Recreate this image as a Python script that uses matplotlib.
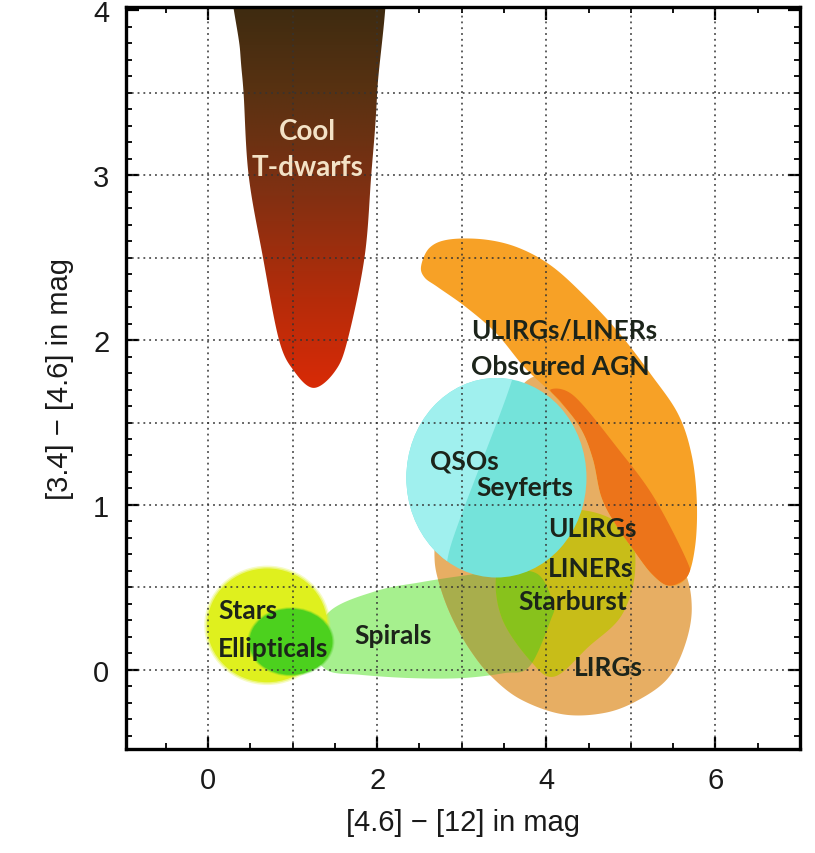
import numpy as np
import matplotlib
matplotlib.use("Agg")
import matplotlib.pyplot as plt
from matplotlib.patches import Polygon, Ellipse
from matplotlib.colors import LinearSegmentedColormap
from matplotlib.ticker import MultipleLocator

# ---------------- data (region outlines in colour-colour space) ----------------
tdwarf_x = [0.30, 0.38, 0.42, 0.48, 0.65, 0.84, 1.02, 1.25, 1.50, 1.65, 1.85, 1.93, 2.00, 2.06, 1.18]
tdwarf_y = [4.40, 3.75, 3.50, 3.00, 2.50, 2.00, 1.81, 1.71, 1.81, 2.00, 2.50, 3.00, 3.50, 4.40, 4.60]

obscured_x = [2.52, 2.62, 2.85, 3.27, 3.67, 4.06, 4.45, 4.85, 5.24, 5.56, 5.72, 5.78, 5.76, 5.66,
              5.45, 5.25, 5.04, 4.82, 4.65, 4.55, 4.40, 4.10, 3.75, 3.41, 3.05, 2.72, 2.56]
obscured_y = [2.45, 2.56, 2.61, 2.61, 2.56, 2.45, 2.27, 2.05, 1.79, 1.55, 1.30, 1.02, 0.75, 0.56,
              0.51, 0.58, 0.72, 0.88, 1.05, 1.28, 1.47, 1.66, 1.83, 2.04, 2.20, 2.32, 2.38]

ulirg_x = [4.05, 4.33, 4.85, 5.28, 5.68, 5.66, 5.45, 5.25, 5.04, 4.82, 4.65, 4.55, 4.40, 4.18]
ulirg_y = [1.70, 1.66, 1.34, 1.04, 0.64, 0.56, 0.51, 0.58, 0.72, 0.88, 1.05, 1.28, 1.47, 1.62]

lirg_x = [2.68, 2.76, 2.90, 3.10, 3.35, 3.70, 4.20, 4.70, 5.10, 5.44, 5.64, 5.72, 5.62, 5.25, 4.60,
          3.95, 3.45, 2.95, 2.72]
lirg_y = [0.66, 0.48, 0.30, 0.12, -0.04, -0.18, -0.27, -0.26, -0.18, -0.05, 0.15, 0.38, 0.62, 0.95,
          1.40, 1.78, 1.55, 1.15, 0.85]

spiral_x = [1.25, 1.45, 2.00, 2.50, 3.00, 3.50, 3.90, 4.08, 4.05, 3.80, 3.50, 3.00, 2.40, 1.80, 1.40]
spiral_y = [0.15, 0.36, 0.48, 0.53, 0.57, 0.60, 0.58, 0.40, 0.30, 0.02, -0.02, -0.05, -0.05, -0.03, 0.00]

starburst_x = [3.47, 3.82, 4.10, 4.50, 4.89, 5.05, 4.95, 4.40, 3.70, 3.42]
starburst_y = [0.32, 0.05, -0.04, 0.14, 0.33, 0.60, 0.85, 0.97, 0.90, 0.62]

qso_light_x = [2.10, 3.59, 3.59, 2.88, 2.75, 2.10]
qso_light_y = [2.00, 1.95, 1.75, 0.77, 0.40, 0.40]

# ellipses: centre x, centre y, width, height
qso_ell = (3.41, 1.165, 2.13, 1.21)
stars_ell = (0.70, 0.27, 1.42, 0.69)
ellip_ell = (0.98, 0.17, 0.98, 0.40)

grid_x = [0, 1, 2, 3, 4, 5, 6]
grid_y = [0.0, 0.5, 1.0, 1.5, 2.0, 2.5, 3.0, 3.5]

labels = ["Cool", "T-dwarfs", "ULIRGs/LINERs", "Obscured AGN", "QSOs", "Seyferts", "ULIRGs",
          "LINERs", "Starburst", "LIRGs", "Stars", "Ellipticals", "Spirals"]
label_x = [1.17, 1.18, 3.11, 3.11, 2.62, 3.17, 4.02, 4.02, 3.67, 4.33, 0.12, 0.12, 1.73]
label_y = [3.27, 3.05, 2.06, 1.84, 1.27, 1.11, 0.86, 0.62, 0.42, 0.02, 0.36, 0.13, 0.21]
label_ha = ["center", "center", "left", "left", "left", "left", "left", "left", "left", "left",
            "left", "left", "left"]
label_col = ["#f3e2c6", "#f3e2c6"] + ["#1c241a"] * 11
label_size = [20, 20] + [19] * 11


def smooth_closed(xs, ys, n=24):
    P = np.column_stack([xs, ys]).astype(float)
    m = len(P)
    out = []
    t = np.linspace(0, 1, n, endpoint=False)[:, None]
    for i in range(m):
        p0, p1, p2, p3 = P[i - 1], P[i], P[(i + 1) % m], P[(i + 2) % m]
        out.append(0.5 * ((2 * p1) + (-p0 + p2) * t + (2 * p0 - 5 * p1 + 4 * p2 - p3) * t ** 2
                          + (-p0 + 3 * p1 - 3 * p2 + p3) * t ** 3))
    return np.vstack(out)


fig = plt.figure(figsize=(8.15, 8.54), dpi=100)
ax = fig.add_axes([126 / 815, 1 - 750 / 854, (800 - 126) / 815, (750 - 8) / 854])


def poly(xs, ys, color, z, clip=None):
    p = Polygon(smooth_closed(xs, ys), closed=True, facecolor=color, edgecolor="none", zorder=z)
    ax.add_patch(p)
    if clip is not None:
        p.set_clip_path(clip)
    return p


def soft_ellipse(e, color, z, glow=True):
    cx, cy, w, h = e
    if glow:
        for k, a in zip([1.05, 1.025], [0.25, 0.45]):
            ax.add_patch(Ellipse((cx, cy), w * k, h * k, facecolor=color, edgecolor="none",
                                 alpha=a, zorder=z))
    el = Ellipse((cx, cy), w, h, facecolor=color, edgecolor="none", zorder=z + 0.01)
    ax.add_patch(el)
    return el


# spirals, LIRGs, overlaps
spir = poly(spiral_x, spiral_y, "#a6f08e", 1)
lirg = poly(lirg_x, lirg_y, "#e7ae63", 2)
poly(spiral_x, spiral_y, "#a8ae4c", 3, clip=lirg)
poly(starburst_x, starburst_y, "#c8bd18", 4, clip=lirg)
poly(starburst_x, starburst_y, "#88c21c", 5, clip=spir)

# stars and ellipticals
soft_ellipse(stars_ell, "#dff01e", 6)
soft_ellipse(ellip_ell, "#4cd11e", 7)

# QSOs / Seyferts
qso = soft_ellipse(qso_ell, "#74e3da", 8, glow=False)
poly(qso_light_x, qso_light_y, "#a0f0ee", 9, clip=qso)

# Obscured AGN + ULIRG band
obs = poly(obscured_x, obscured_y, "#f7a126", 10)
poly(ulirg_x, ulirg_y, "#ec741a", 11, clip=obs)

# T-dwarfs with vertical gradient
td = Polygon(smooth_closed(tdwarf_x, tdwarf_y), closed=True, facecolor="none", edgecolor="none", zorder=12)
ax.add_patch(td)
cmap = LinearSegmentedColormap.from_list("td", [(0.0, "#dc2a06"), (0.25, "#b42c0a"),
                                                (0.5, "#823012"), (0.75, "#5a3212"), (1.0, "#3a2a10")])
grad = np.linspace(0, 1, 256)[:, None]
im = ax.imshow(grad, extent=[0.2, 2.2, 1.65, 4.1], origin="lower", cmap=cmap, aspect="auto",
               zorder=12, interpolation="bilinear")
im.set_clip_path(td)
ax.set_xlim(-0.97, 7.0)
ax.set_ylim(-0.48, 4.02)

# grid
for gx in grid_x:
    ax.axvline(gx, color="#333333", lw=1.1, ls=(0, (1.2, 2.6)), zorder=15)
for gy in grid_y:
    ax.axhline(gy, color="#333333", lw=1.1, ls=(0, (1.2, 2.6)), zorder=15)

# labels
for s, x, y, ha, c, fs in zip(labels, label_x, label_y, label_ha, label_col, label_size):
    ax.text(x, y, s, ha=ha, va="center", fontsize=fs, fontweight="bold", family="Lato", color=c,
            zorder=20)

# axes styling
ax.xaxis.set_major_locator(MultipleLocator(2))
ax.xaxis.set_minor_locator(MultipleLocator(0.5))
ax.yaxis.set_major_locator(MultipleLocator(1))
ax.yaxis.set_minor_locator(MultipleLocator(0.1))
ax.tick_params(which="both", direction="in", top=True, right=True, colors="black")
ax.tick_params(which="major", length=9, width=1.6, labelsize=21, pad=12, labelcolor="#1a1a1a")
ax.tick_params(which="minor", length=4.5, width=1.3)
for lab in ax.get_xticklabels() + ax.get_yticklabels():
    lab.set_family("Liberation Sans")
for sp in ax.spines.values():
    sp.set_linewidth(2.4)
    sp.set_zorder(30)
ax.set_xlabel("[4.6] \u2212 [12] in mag", fontsize=21, family="Liberation Sans", color="#1a1a1a",
              labelpad=10)
ax.set_ylabel("[3.4] \u2212 [4.6] in mag", fontsize=21, family="Liberation Sans", color="#1a1a1a",
              labelpad=14)

fig.savefig("out.png", dpi=100)
